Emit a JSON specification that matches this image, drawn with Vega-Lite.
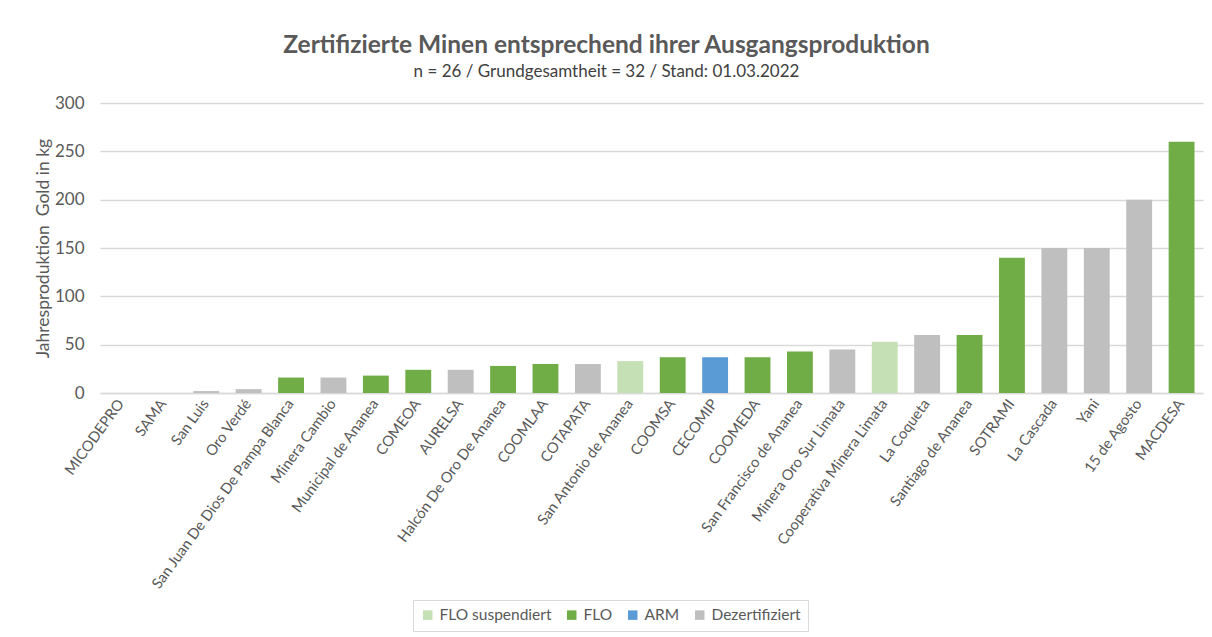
{
  "$schema": "https://vega.github.io/schema/vega-lite/v6.json",
  "width": 1103,
  "height": 290,
  "autosize": "none",
  "padding": {"left": 100, "top": 103, "right": 9, "bottom": 244},
  "background": "white",
  "title": {
    "text": "Zertifizierte Minen entsprechend ihrer Ausgangsproduktion",
    "subtitle": "n = 26 / Grundgesamtheit = 32 / Stand: 01.03.2022",
    "anchor": "middle",
    "dx": -45,
    "offset": 13,
    "font": "Lato",
    "fontSize": 24.5,
    "fontWeight": "bold",
    "color": "#595959",
    "subtitleFont": "Lato",
    "subtitleFontSize": 17,
    "subtitleColor": "#404040",
    "subtitlePadding": 6
  },
  "data": {
    "values": [
      {"mine": "MICODEPRO", "value": 0, "status": "FLO"},
      {"mine": "SAMA", "value": 0, "status": "FLO"},
      {"mine": "San Luis", "value": 2, "status": "Dezertifiziert"},
      {"mine": "Oro Verdé", "value": 4, "status": "Dezertifiziert"},
      {"mine": "San Juan De Dios De Pampa Blanca", "value": 16, "status": "FLO"},
      {"mine": "Minera Cambio", "value": 16, "status": "Dezertifiziert"},
      {"mine": "Municipal de Ananea", "value": 18, "status": "FLO"},
      {"mine": "COMEOA", "value": 24, "status": "FLO"},
      {"mine": "AURELSA", "value": 24, "status": "Dezertifiziert"},
      {"mine": "Halcón De Oro De Ananea", "value": 28, "status": "FLO"},
      {"mine": "COOMLAA", "value": 30, "status": "FLO"},
      {"mine": "COTAPATA", "value": 30, "status": "Dezertifiziert"},
      {"mine": "San Antonio de Ananea", "value": 33, "status": "FLO suspendiert"},
      {"mine": "COOMSA", "value": 37, "status": "FLO"},
      {"mine": "CECOMIP", "value": 37, "status": "ARM"},
      {"mine": "COOMEDA", "value": 37, "status": "FLO"},
      {"mine": "San Francisco de Ananea", "value": 43, "status": "FLO"},
      {"mine": "Minera Oro Sur Limata", "value": 45, "status": "Dezertifiziert"},
      {"mine": "Cooperativa Minera Limata", "value": 53, "status": "FLO suspendiert"},
      {"mine": "La Coqueta", "value": 60, "status": "Dezertifiziert"},
      {"mine": "Santiago de Ananea", "value": 60, "status": "FLO"},
      {"mine": "SOTRAMI", "value": 140, "status": "FLO"},
      {"mine": "La Cascada", "value": 150, "status": "Dezertifiziert"},
      {"mine": "Yani", "value": 150, "status": "Dezertifiziert"},
      {"mine": "15 de Agosto", "value": 200, "status": "Dezertifiziert"},
      {"mine": "MACDESA", "value": 260, "status": "FLO"}
    ]
  },
  "mark": {"type": "bar"},
  "encoding": {
    "x": {
      "field": "mine",
      "type": "nominal",
      "sort": null,
      "scale": {"paddingInner": 0.39, "paddingOuter": 0.2},
      "axis": {
        "title": null,
        "labelAngle": -54,
        "labelFont": "Lato",
        "labelFontSize": 14.8,
        "labelColor": "#595959",
        "ticks": false,
        "labelPadding": 8,
        "domainColor": "#d9d9d9",
        "domainWidth": 1.5,
        "labelLimit": 400
      }
    },
    "y": {
      "field": "value",
      "type": "quantitative",
      "scale": {"domain": [0, 300], "nice": false},
      "axis": {
        "title": "Jahresproduktion\u00a0 Gold in kg",
        "titleFont": "Lato",
        "titleFontSize": 17.5,
        "titleFontWeight": "normal",
        "titleColor": "#595959",
        "titlePadding": 2,
        "values": [0, 50, 100, 150, 200, 250, 300],
        "labelFont": "Lato",
        "labelFontSize": 17,
        "labelColor": "#595959",
        "labelPadding": 16,
        "domain": false,
        "ticks": false,
        "gridColor": "#d9d9d9",
        "gridWidth": 1.5
      }
    },
    "color": {
      "field": "status",
      "type": "nominal",
      "scale": {
        "domain": ["FLO suspendiert", "FLO", "ARM", "Dezertifiziert"],
        "range": ["#c5e0b4", "#70ad47", "#5b9bd5", "#bfbfbf"]
      },
      "legend": {
        "title": null,
        "orient": "none",
        "direction": "horizontal",
        "legendX": 313,
        "legendY": 497,
        "symbolType": "square",
        "symbolSize": 90,
        "symbolStrokeWidth": 0,
        "labelFont": "Lato",
        "labelFontSize": 15.5,
        "labelColor": "#595959",
        "columnPadding": 12,
        "padding": 7,
        "strokeColor": "#d9d9d9",
        "fillColor": "white"
      }
    }
  },
  "config": {
    "view": {"stroke": null}
  }
}
